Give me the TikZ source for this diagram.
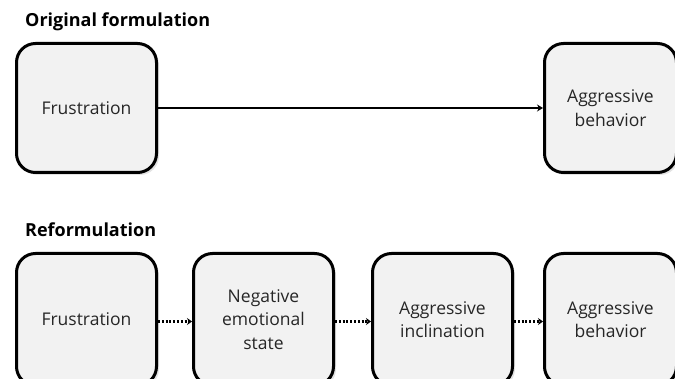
\documentclass[tikz,border=0pt]{standalone}
\usepackage{fontspec}
\setmainfont{Open Sans}
\usetikzlibrary{arrows.meta,shadows}
\definecolor{boxfill}{HTML}{F2F2F2}
\definecolor{txt}{HTML}{262626}
\begin{document}
\begin{tikzpicture}[x=1pt,y=-1pt,
  box/.style={draw=black, line width=3pt, fill=boxfill, rounded corners=19pt,
    minimum width=140pt, minimum height=129pt, anchor=north west, inner sep=0pt,
    align=center, font=\fontsize{17.5}{23.5}\selectfont, text=txt,
    drop shadow={opacity=0.22, shadow xshift=2.5pt, shadow yshift=-2.5pt}},
  title/.style={anchor=base west, font=\fontsize{18}{21}\selectfont\bfseries, inner sep=0pt, text=black},
  solidarrow/.style={line width=2.5pt, -{Stealth[length=6pt,width=7pt]}},
  dotarrow/.style={line width=2.6pt, dash pattern=on 2pt off 1.8pt, -{Stealth[length=5pt,width=7pt]}}
]
\useasboundingbox (0,0) rectangle (675,379);
\clip (0,0) rectangle (675,379);
\node[title] (t1) at (25,26.7) {Original formulation};
\node[box] (f1) at (15,42) {Frustration};
\node[box, minimum width=132pt] (a1) at (543,42) {Aggressive\\behavior};
\draw[solidarrow] (f1.east) -- (a1.west);

\node[title] (t2) at (25,236.7) {Reformulation};
\node[box, minimum height=132pt] (f2) at (15,252) {Frustration};
\node[box, minimum height=132pt] (n2) at (192,252) {Negative\\emotional\\state};
\node[box, minimum height=132pt] (i2) at (371,252) {Aggressive\\inclination};
\node[box, minimum height=132pt, minimum width=132pt] (b2) at (543,252) {Aggressive\\behavior};
\draw[dotarrow] ([yshift=-2pt]f2.east) -- ([yshift=-2pt]n2.west);
\draw[dotarrow] ([yshift=-2pt]n2.east) -- ([yshift=-2pt]i2.west);
\draw[dotarrow] ([yshift=-2pt]i2.east) -- ([yshift=-2pt]b2.west);
\end{tikzpicture}
\end{document}
